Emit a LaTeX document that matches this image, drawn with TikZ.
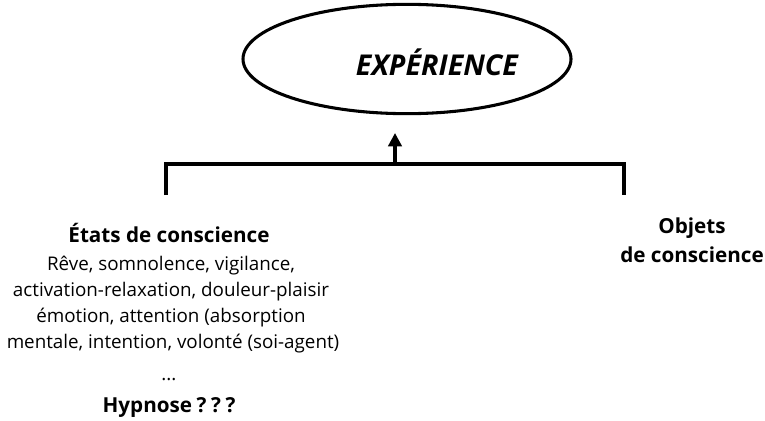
\documentclass[tikz,border=0pt]{standalone}
\usepackage{fontspec}
\setmainfont{Open Sans}
\usetikzlibrary{shapes.geometric,arrows.meta}
\tikzset{
  titre/.style={anchor=base, font=\fontsize{15.5}{18}\selectfont\bfseries},
  corps/.style={anchor=base, font=\fontsize{14.1}{17}\selectfont},
  trait/.style={line width=3.4pt, line cap=butt, line join=miter}
}
\begin{document}
\begin{tikzpicture}[x=0.75pt, y=-0.75pt]
\useasboundingbox (0,0) rectangle (765,421);
% experience
\node[ellipse, draw, line width=2.3pt, minimum width=246pt, minimum height=82pt] (exp) at (407,59) {};
\node[font=\fontsize{21.5}{25}\selectfont\bfseries\itshape] (explbl) at (437,62) {EXPÉRIENCE};
% bracket
\coordinate (bl) at (166,195);
\coordinate (lt) at (166,164);
\coordinate (rt) at (624,164);
\coordinate (br) at (624,195);
\coordinate (mid) at (395,164);
\coordinate (tip) at (395,133);
\draw[trait] (bl) -- (lt) -- (rt) -- (br);
\draw[line width=2.4pt, -{Triangle[length=10pt, width=10pt]}] (mid) -- (tip);
% etats
\node[titre] (etats) at (169,242) {États de conscience};
\node[corps] (l1) at (171,270) {Rêve, somnolence, vigilance,};
\node[corps] (l2) at (171,296) {activation-relaxation, douleur-plaisir};
\node[corps] (l3) at (171,322) {émotion, attention (absorption};
\node[corps] (l4) at (173,348) {mentale, intention, volonté (soi-agent)};
\node[corps] (dots) at (169,380) {...};
\node[titre] (hyp) at (169,412) {Hypnose\hspace{0.22em}?\hspace{0.22em}?\hspace{0.22em}?};
% objets
\node[titre] (obj) at (692,233) {Objets};
\node[titre] (decons) at (692,262) {de conscience};
\end{tikzpicture}
\end{document}
